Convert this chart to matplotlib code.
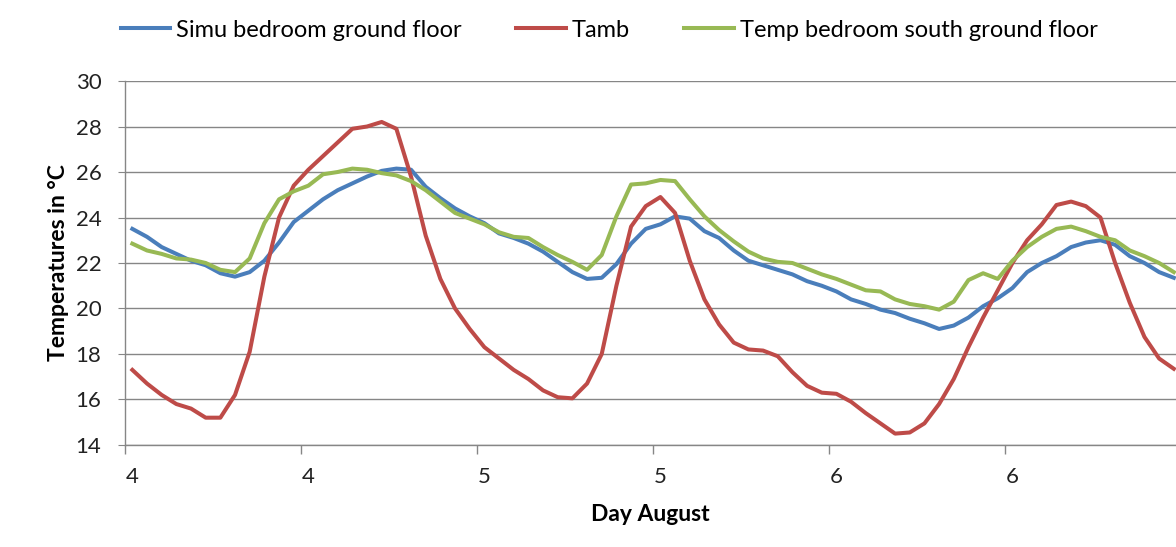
import numpy as np
import matplotlib
matplotlib.use("Agg")
import matplotlib.pyplot as plt

plt.rcParams['font.family'] = ['Lato', 'DejaVu Sans']

# hourly values, 4 to 6 August
simu = [23.5, 23.15, 22.7, 22.4, 22.1, 21.9, 21.55, 21.4, 21.6, 22.1, 22.9, 23.8,
        24.3, 24.8, 25.2, 25.5, 25.8, 26.05, 26.15, 26.1, 25.35, 24.85, 24.4, 24.05,
        23.75, 23.3, 23.1, 22.85, 22.5, 22.05, 21.6, 21.3, 21.35, 21.95, 22.85, 23.5,
        23.7, 24.05, 23.95, 23.4, 23.1, 22.55, 22.1, 21.9, 21.7, 21.5, 21.2, 21.0,
        20.75, 20.4, 20.2, 19.95, 19.8, 19.55, 19.35, 19.1, 19.25, 19.6, 20.1, 20.45,
        20.9, 21.6, 22.0, 22.3, 22.7, 22.9, 23.0, 22.8, 22.3, 22.0, 21.6, 21.35]
tamb = [17.3, 16.7, 16.2, 15.8, 15.6, 15.2, 15.2, 16.2, 18.1, 21.4, 24.0, 25.4,
        26.1, 26.7, 27.3, 27.9, 28.0, 28.2, 27.9, 25.8, 23.2, 21.3, 20.0, 19.1,
        18.3, 17.8, 17.3, 16.9, 16.4, 16.1, 16.05, 16.7, 18.0, 21.0, 23.6, 24.5,
        24.9, 24.2, 22.1, 20.4, 19.3, 18.5, 18.2, 18.15, 17.9, 17.2, 16.6, 16.3,
        16.25, 15.9, 15.4, 14.95, 14.5, 14.55, 14.95, 15.8, 16.9, 18.3, 19.6, 20.8,
        22.0, 23.0, 23.7, 24.55, 24.7, 24.5, 24.0, 22.0, 20.25, 18.75, 17.8, 17.35]
temp_south = [22.85, 22.55, 22.4, 22.2, 22.15, 22.0, 21.7, 21.6, 22.2, 23.75, 24.8, 25.15,
              25.4, 25.9, 26.0, 26.15, 26.1, 25.95, 25.85, 25.6, 25.2, 24.7, 24.2, 23.95,
              23.7, 23.35, 23.15, 23.1, 22.7, 22.35, 22.05, 21.7, 22.35, 24.05, 25.45, 25.5,
              25.65, 25.6, 24.8, 24.05, 23.45, 22.95, 22.5, 22.2, 22.05, 22.0, 21.75, 21.5,
              21.3, 21.05, 20.8, 20.75, 20.4, 20.2, 20.1, 19.95, 20.3, 21.25, 21.55, 21.3,
              22.1, 22.7, 23.15, 23.5, 23.6, 23.4, 23.15, 23.0, 22.55, 22.3, 22.0, 21.6]
day_labels = ['4', '4', '5', '5', '6', '6']

x = np.arange(len(simu))

fig = plt.figure(figsize=(11.76, 5.47), dpi=100)
ax = fig.add_axes([0.1063, 0.1865, 0.8937, 0.6654])

ax.plot(x, simu, color='#4A7EBB', lw=2.9, label='Simu bedroom ground floor')
ax.plot(x, tamb, color='#BE4B48', lw=2.9, label='Tamb')
ax.plot(x, temp_south, color='#98B954', lw=2.9, label='Temp bedroom south ground floor')

ax.set_ylim(14, 30)
ax.set_yticks(np.arange(14, 31, 2))
ax.set_xlim(-0.5, 71.15)
ax.set_xticks(np.arange(-0.5, 71, 12))
ax.set_xticklabels([])
ax.set_xticks(np.arange(0, 71, 12), minor=True)
ax.set_xticklabels(day_labels, minor=True)
ax.tick_params(axis='x', which='major', length=6.5, color='#868686', width=1)
ax.tick_params(axis='x', which='minor', length=0, pad=16, labelsize=16, labelcolor='#222222')
ax.tick_params(axis='y', length=5, color='#868686', pad=12, labelsize=16, labelcolor='#222222')

ax.grid(axis='y', color='#868686', lw=1)
ax.set_axisbelow(True)
for s in ['top', 'right']:
    ax.spines[s].set_visible(False)
for s in ['left', 'bottom']:
    ax.spines[s].set_color('#868686')
    ax.spines[s].set_linewidth(1)

ax.set_ylabel('Temperatures in °C', fontsize=16.5, fontweight='bold', labelpad=5)
ax.set_xlabel('Day August', fontsize=16.5, fontweight='bold', labelpad=12)

fig.legend(loc='center', bbox_to_anchor=(0.518, 0.945), ncol=3, frameon=False,
           fontsize=17, handlelength=2.1, handletextpad=0.25, columnspacing=2.3)

fig.savefig('out.png', dpi=100, facecolor='white')
